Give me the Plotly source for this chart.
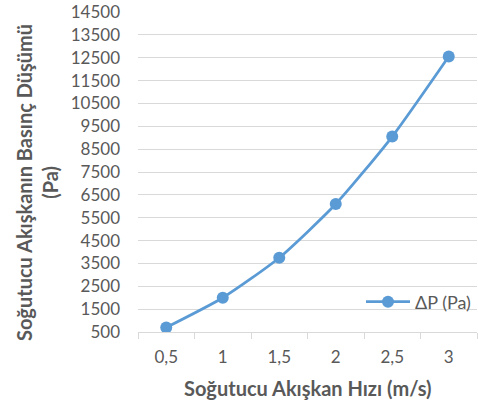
import plotly.graph_objects as go

categories = ["0,5", "1", "1,5", "2", "2,5", "3"]
dp_values = [700, 2000, 3750, 6100, 9050, 12550]
y_ticks = list(range(500, 14501, 1000))
series_name = "ΔP (Pa)"

W, H = 478, 403
L, R, T, B = 138, 1, 12, 71
pw, ph = W - L - R, H - T - B

def px_x(px):
    return (px - L) / pw

def px_y(py):
    return (H - B - py) / ph

fig = go.Figure()
fig.add_trace(go.Scatter(
    x=categories, y=dp_values, name=series_name,
    mode="lines+markers",
    line=dict(color="#5B9BD5", width=2.75, shape="spline", smoothing=0.6),
    marker=dict(color="#5B9BD5", size=12),
))

font_fam = "Lato, Open Sans, sans-serif"
gray = "#595959"
fig.update_layout(
    width=W, height=H,
    margin=dict(l=L, r=R, t=T, b=B),
    paper_bgcolor="white", plot_bgcolor="white",
    font=dict(family=font_fam, color=gray, size=17),
    showlegend=True,
    legend=dict(x=px_x(361), y=px_y(302), xanchor="left", yanchor="middle",
                bgcolor="rgba(0,0,0,0)", font=dict(size=18, color=gray),
                itemwidth=44),
    xaxis=dict(
        type="category", tickson="boundaries",
        showgrid=False, showline=True, linecolor="#d9d9d9", linewidth=1,
        ticks="outside", ticklen=6, tickcolor="#d9d9d9",
        tickfont=dict(size=17, color=gray), ticklabelstandoff=10,
        range=[-0.5, 5.5],
    ),
    yaxis=dict(
        range=[500, 14500], tickmode="array", tickvals=y_ticks,
        ticktext=[str(v) for v in y_ticks],
        showgrid=True, gridcolor="#d9d9d9", gridwidth=1,
        zeroline=False, showline=False,
        tickfont=dict(size=17, color=gray), ticks="", ticklabelstandoff=17,
    ),
    annotations=[
        dict(text="<b>Soğutucu Akışkanın Basınç Düşümü<br>(Pa)</b>",
             xref="paper", yref="paper", x=px_x(37), y=px_y(183),
             xanchor="center", yanchor="middle", textangle=-90,
             showarrow=False, font=dict(size=20, color=gray, family=font_fam)),
        dict(text="<b>Soğutucu Akışkan Hızı (m/s)</b>",
             xref="paper", yref="paper", x=px_x(308), y=px_y(388),
             xanchor="center", yanchor="middle",
             showarrow=False, font=dict(size=20, color=gray, family=font_fam)),
    ],
)

fig.write_html("out.html")
